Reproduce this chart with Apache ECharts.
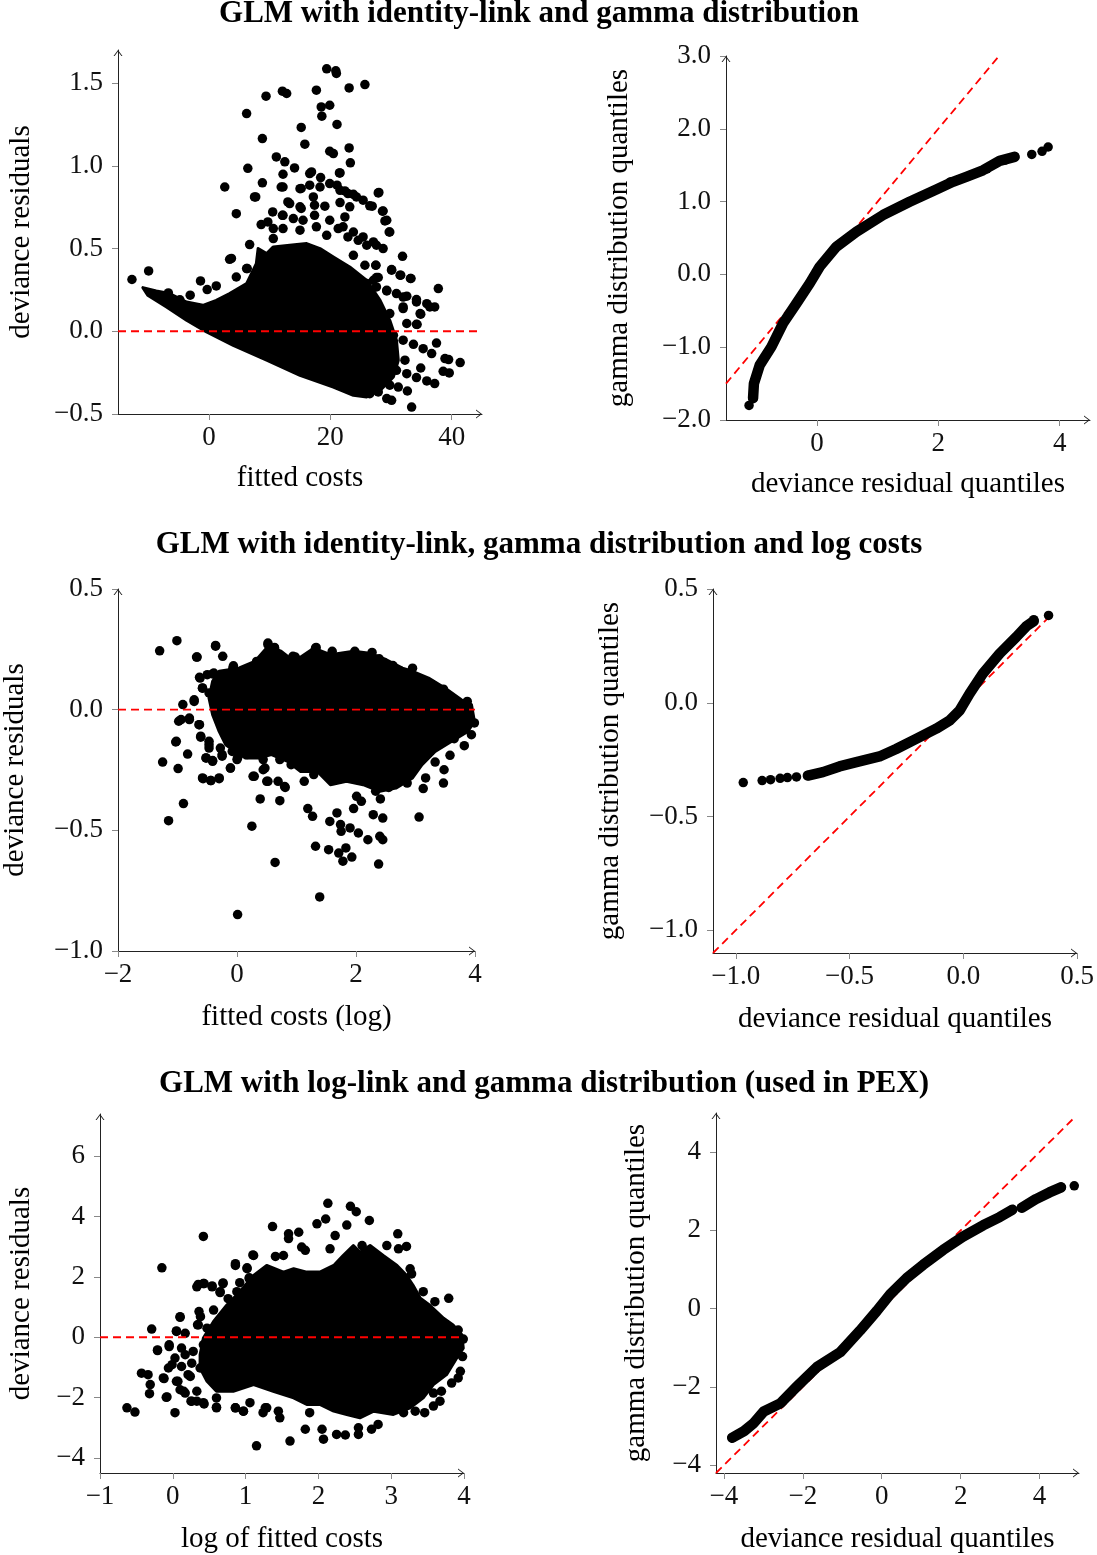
<!DOCTYPE html>
<html><head><meta charset="utf-8">
<script src="https://cdn.jsdelivr.net/npm/echarts@6/dist/echarts.min.js"></script>
<style>html,body{margin:0;padding:0;background:#fff}#c{width:1097px;height:1555px}</style>
</head><body><div id="c"></div><script>
// ---------- Titles ----------
var titles = [
  'GLM with identity-link and gamma distribution',
  'GLM with identity-link, gamma distribution and log costs',
  'GLM with log-link and gamma distribution (used in PEX)'
];
// ---------- Plot 1: identity-link, gamma — residuals vs fitted ----------
var p1XTicks = [0, 20, 40];
var p1YTicks = [-0.5, 0, 0.5, 1.0, 1.5];
var p1Zero = [[-15, 0], [45, 0]];
var p1Blob = [[-10.9,0.264],[-8.7,0.244],[-6.5,0.228],[-3.7,0.177],[-1.0,0.157],[1.2,0.187],[3.4,0.228],[6.2,0.288],[7.8,0.409],[8.1,0.5],[9.5,0.47],[10.6,0.51],[13.3,0.52],[16.1,0.53],[18.3,0.5],[20.5,0.449],[23.2,0.389],[26.0,0.308],[28.2,0.187],[29.8,0.066],[30.9,-0.054],[31.2,-0.175],[30.4,-0.276],[28.2,-0.357],[26.0,-0.397],[23.8,-0.387],[20.5,-0.337],[15.0,-0.266],[9.5,-0.175],[4.0,-0.085],[-0.4,-0.004],[-3.7,0.067],[-7.0,0.147],[-10.1,0.218]];
var p1Points = [[-12.7,0.313],[-9.95,0.365],[-6.7,0.232],[-4.8,0.19],[-3.1,0.218],[-1.4,0.304],[-0.3,0.252],[1.2,0.274],[3.4,0.435],[4.5,0.711],[2.6,0.872],[6.2,1.316],[6.4,0.985],[6.3,0.379],[6.7,0.524],[7.7,0.812],[8.8,1.165],[8.8,0.897],[9.4,1.421],[8.6,0.645],[9.7,0.661],[10.5,0.721],[11.1,1.054],[10.6,0.56],[12.1,1.451],[12.8,1.437],[12.5,1.024],[12.2,0.872],[12.1,0.701],[14.1,0.987],[13.3,0.772],[15.2,1.232],[15.8,1.131],[15.0,0.862],[15.2,0.742],[17.7,1.457],[18.5,1.356],[18.6,1.3],[19.4,1.586],[19.9,1.366],[20.9,1.574],[21.0,1.558],[21.1,1.25],[19.9,1.088],[20.5,1.074],[23.1,1.471],[25.7,1.491],[23.1,1.108],[23.3,1.018],[21.5,0.957],[16.9,0.963],[18.3,0.872],[17.2,0.812],[21.6,0.852],[22.9,0.832],[24.3,0.812],[25.4,0.792],[26.5,0.758],[27.9,0.836],[28.7,0.727],[29.3,0.671],[29.7,0.6],[22.1,0.631],[23.8,0.6],[25.4,0.57],[27.1,0.54],[28.7,0.5],[31.9,0.453],[30.1,0.369],[31.5,0.339],[33.2,0.319],[27.9,0.325],[27.5,0.399],[25.7,0.399],[37.8,0.258],[26.0,0.288],[27.6,0.268],[29.3,0.244],[30.9,0.228],[32.6,0.212],[34.2,0.192],[35.9,0.167],[37.2,0.147],[32.0,0.137],[34.9,0.103],[34.3,0.041],[28.7,0.006],[30.4,-0.024],[32.0,-0.054],[33.7,-0.079],[35.3,-0.105],[36.7,-0.135],[37.5,-0.071],[38.9,-0.165],[39.5,-0.171],[41.4,-0.189],[32.3,-0.175],[34.9,-0.222],[30.9,-0.236],[32.6,-0.256],[34.2,-0.28],[35.9,-0.3],[37.2,-0.316],[38.6,-0.242],[39.6,-0.252],[29.8,-0.326],[31.2,-0.337],[32.7,-0.361],[29.3,-0.407],[30.1,-0.417],[33.4,-0.458],[26.5,-0.377],[27.9,-0.367],
  [12.2,0.949],[16.6,0.953],[18.4,0.929],[21.6,0.957],[11.9,0.872],[15.2,0.863],[16.6,0.883],[19.9,0.893],[21.1,0.883],[22.4,0.848],[23.8,0.828],[28.0,0.839],[7.5,0.812],[13.0,0.782],[15.0,0.752],[17.4,0.762],[19.1,0.756],[21.6,0.778],[23.2,0.752],[26.9,0.756],[28.6,0.726],[12.2,0.701],[13.9,0.681],[15.5,0.671],[17.4,0.701],[19.9,0.671],[22.4,0.691],[29.0,0.667],[29.8,0.6],[10.6,0.621],[12.2,0.621],[15.0,0.611],[17.7,0.631],[19.4,0.58],[21.3,0.621],[22.9,0.57],[24.6,0.55],[26.0,0.52],[27.6,0.52],[23.8,0.459],[27.5,0.399],[30.1,0.373],[31.6,0.339],[33.3,0.319],[27.6,0.325],[4.5,0.328],[6.2,0.379],[3.7,0.44],[32.0,0.147],[34.8,0.107],[34.2,0.042],[27.1,0.308],[29.3,0.248],[32.0,0.207],[34.2,0.177],[36.4,0.147],[29.8,0.107],[32.6,0.047]];
// ---------- Plot 2: QQ plot ----------
var p2XTicks = [0, 2, 4];
var p2YTicks = [-2, -1, 0, 1, 2, 3];
var p2Ref = [[-1.5, -1.5], [3, 3]];
var p2Curve = [[-1.054,-1.70],[-1.04,-1.50],[-0.944,-1.246],[-0.751,-0.994],[-0.56,-0.673],[-0.34,-0.40],[-0.12,-0.124],[0.044,0.105],[0.32,0.38],[0.65,0.585],[1.087,0.815],[1.527,0.997],[1.967,1.167],[2.24,1.272],[2.46,1.34],[2.735,1.43],[3.01,1.56],[3.257,1.615]];
var p2Dots = [[-1.12,-1.80],[-1.054,-1.70],[2.2,1.27],[2.52,1.36],[2.8,1.45],[3.1,1.57],[3.257,1.615],[3.54,1.648],[3.71,1.69],[3.81,1.75]];
// ---------- Plot 3: identity-link, log costs ----------
var p3XTicks = [-2, 0, 2, 4];
var p3YTicks = [-1.0, -0.5, 0, 0.5];
var p3Zero = [[-2, 0], [4, 0]];
var p3Blob = [[-0.30,0.159],[0.03,0.172],[0.30,0.2],[0.52,0.262],[0.74,0.242],[0.96,0.2],[1.29,0.255],[1.57,0.228],[1.96,0.242],[2.23,0.234],[2.51,0.207],[2.78,0.172],[2.95,0.159],[3.22,0.131],[3.50,0.089],[3.77,0.041],[3.94,0.021],[3.99,-0.048],[3.88,-0.09],[3.61,-0.131],[3.33,-0.173],[3.11,-0.228],[2.95,-0.283],[2.67,-0.325],[2.40,-0.338],[2.12,-0.311],[1.84,-0.297],[1.57,-0.311],[1.35,-0.256],[1.07,-0.256],[0.85,-0.214],[0.58,-0.186],[0.36,-0.2],[0.14,-0.2],[-0.03,-0.173],[-0.19,-0.145],[-0.30,-0.09],[-0.41,-0.021],[-0.47,0.048],[-0.41,0.117]];
var p3Points = [[-1.30,0.244],[-1.01,0.286],[-0.36,0.266],[-0.24,0.221],[-0.67,0.218],[-0.06,0.182],[-0.62,0.131],[-0.50,0.145],[-0.39,0.152],[-0.72,0.041],[-0.91,0.021],[-0.58,0.089],[-0.98,-0.048],[-0.80,-0.035],[-0.64,-0.062],[-1.03,-0.134],[-0.61,-0.114],[-0.47,-0.145],[-0.83,-0.184],[-1.25,-0.217],[-0.99,-0.244],[-0.52,-0.2],[-0.41,-0.214],[-0.57,-0.286],[-0.44,-0.294],[-0.30,-0.286],[-0.25,-0.186],[-0.11,-0.242],[0.01,-0.2],[-0.90,-0.389],[-1.15,-0.46],[0.25,-0.483],[0.29,-0.276],[0.44,-0.249],[0.52,-0.297],[0.69,-0.297],[0.81,-0.322],[0.39,-0.37],[0.72,-0.377],[0.64,-0.633],[0.01,-0.849],[1.39,-0.776],[1.32,-0.566],[1.19,-0.41],[1.27,-0.442],[1.54,-0.58],[1.56,-0.463],[1.68,-0.428],[1.74,-0.476],[1.71,-0.594],[1.83,-0.573],[1.78,-0.628],[1.93,-0.611],[1.75,-0.504],[1.90,-0.49],[1.96,-0.41],[2.29,-0.435],[2.09,-0.38],[2.01,-0.359],[2.04,-0.511],[2.20,-0.539],[2.38,-0.64],[2.40,-0.525],[2.45,-0.539],[2.45,-0.449],[2.41,-0.37],[2.33,-0.338],[3.06,-0.445],[3.13,-0.327],[2.55,-0.322],[2.86,-0.304],[3.17,-0.283],[3.33,-0.217],[3.48,-0.249],[3.47,-0.304],[3.58,-0.189],[3.45,-0.131],[3.65,-0.12],[3.82,-0.149],[3.94,-0.104],[3.99,-0.055],[3.87,0.034],[3.47,0.085],[3.28,0.104],[2.95,0.172],[2.75,0.159],[2.62,0.183],[2.39,0.211],[2.27,0.237],[1.98,0.242],[1.60,0.242],[1.33,0.258],[0.98,0.218],[0.63,0.258],[0.52,0.276],[0.33,0.2],[-0.07,0.172],
  [-0.36,0.263],[-0.68,0.218],[-0.63,0.134],[-0.41,0.148],[-0.28,0.134],[-0.58,0.09],[-0.47,0.069],[-0.30,0.055],[-0.72,0.034],[-0.94,-0.041],[-0.80,-0.041],[-0.63,-0.062],[-1.02,-0.131],[-0.61,-0.11],[-0.47,-0.131],[-0.47,-0.159],[-0.28,-0.159],[-0.52,-0.2],[-0.41,-0.211],[-0.25,-0.193],[-0.08,-0.173],[-0.11,-0.242],[0,-0.207],[0.17,-0.186],[-0.58,-0.283],[-0.44,-0.294],[-0.30,-0.283],[0.27,-0.276],[0.47,-0.242],[0.50,-0.297],[0.80,-0.318],[0.44,-0.207],[0.72,-0.207],[0.91,-0.228],[1.13,-0.242],[1.29,-0.269],[1.13,-0.297],[0.52,0.269],[0.63,0.255],[0.33,0.193],[0.14,0.159],[0.94,0.221],[1.32,0.255]];
// ---------- Plot 4: QQ plot ----------
var p4Ticks = [-1.0, -0.5, 0, 0.5];
var p4Ref = [[-1.1, -1.1], [0.37, 0.37]];
var p4Curve = [[-0.683,-0.32],[-0.617,-0.305],[-0.544,-0.28],[-0.47,-0.261],[-0.368,-0.236],[-0.295,-0.203],[-0.207,-0.159],[-0.119,-0.114],[-0.06,-0.078],[-0.016,-0.034],[0.028,0.04],[0.086,0.128],[0.16,0.216],[0.233,0.289],[0.277,0.336],[0.31,0.359]];
var p4Dots = [[-0.967,-0.351],[-0.884,-0.342],[-0.847,-0.338],[-0.805,-0.332],[-0.773,-0.329],[-0.733,-0.326],[-0.683,-0.32],[0.31,0.365],[0.375,0.384]];
// ---------- Plot 5: log-link — residuals vs log fitted ----------
var p5XTicks = [-1, 0, 1, 2, 3, 4];
var p5YTicks = [-4, -2, 0, 2, 4, 6];
var p5Zero = [[-1, 0], [4, 0]];
var p5Blob = [[0.375,-0.58],[0.42,-0.03],[0.56,0.52],[0.74,1.06],[0.92,1.51],[1.11,2.05],[1.29,2.38],[1.52,2.16],[1.66,2.27],[1.84,2.16],[2.02,2.16],[2.21,2.38],[2.34,2.71],[2.48,3.04],[2.57,2.82],[2.71,3.04],[2.89,2.71],[3.08,2.38],[3.21,2.05],[3.30,1.72],[3.40,1.29],[3.53,1.06],[3.72,0.63],[3.85,0.41],[3.97,0.08],[3.99,-0.36],[3.90,-0.69],[3.76,-1.24],[3.58,-1.57],[3.44,-2.01],[3.26,-2.34],[3.03,-2.56],[2.76,-2.45],[2.57,-2.67],[2.39,-2.56],[2.21,-2.45],[2.02,-2.23],[1.84,-2.23],[1.66,-2.01],[1.38,-1.79],[1.11,-1.57],[0.83,-1.79],[0.60,-1.79],[0.47,-1.46],[0.375,-1.02]];
var p5Points = [[-0.63,-2.34],[-0.52,-2.48],[-0.43,-1.19],[-0.34,-1.24],[-0.31,-1.57],[-0.32,-1.87],[-0.29,0.27],[-0.21,-0.44],[-0.15,2.30],[-0.13,-1.35],[-0.08,-1.98],[-0.05,-0.31],[-0.01,-0.91],[0.03,-2.50],[0.05,0.19],[0.10,0.68],[0.07,-1.46],[0.10,-1.74],[0.17,-1.85],[0.17,-0.58],[0.21,-1.24],[0.25,-2.12],[0.33,1.67],[0.34,0.41],[0.36,0.85],[0.33,-2.12],[0.42,3.34],[0.43,-2.21],[0.43,1.78],[0.54,1.67],[0.60,-2.34],[0.65,1.51],[0.69,1.78],[0.86,2.38],[0.86,-2.34],[0.97,-2.45],[1.02,2.27],[1.05,1.94],[1.11,2.71],[1.06,-2.17],[1.24,-2.50],[1.27,-2.34],[1.37,3.67],[1.41,2.68],[1.45,-2.45],[1.47,-2.67],[1.15,-3.60],[1.52,2.71],[1.59,3.43],[1.59,3.27],[1.61,-3.44],[1.73,3.48],[1.77,2.99],[1.82,2.88],[1.82,-3.05],[1.88,-2.50],[1.98,3.76],[2.05,-3.05],[2.07,-3.38],[2.10,3.92],[2.13,4.44],[2.16,2.93],[2.23,3.37],[2.25,-3.22],[2.37,-3.24],[2.39,3.72],[2.44,4.34],[2.52,4.16],[2.55,-3.22],[2.55,-3.00],[2.60,3.04],[2.70,3.87],[2.73,-3.05],[2.82,-2.89],[2.94,3.04],[3.09,3.43],[3.10,2.93],[3.21,3.01],[3.17,-2.50],[3.26,2.27],[3.28,2.10],[3.33,-2.45],[3.44,1.51],[3.46,-2.50],[3.58,-2.28],[3.58,-1.85],[3.67,-2.12],[3.69,-1.79],[3.79,1.29],[3.60,1.18],[3.83,-1.52],[3.95,-1.13],[3.92,-1.35],[3.98,-0.64],[3.99,-0.06],[3.92,0.24],
  [1.10,2.73],[0.86,2.44],[1.02,2.30],[0.35,1.75],[0.42,1.78],[0.54,1.70],[0.69,1.80],[0.65,1.48],[0.92,1.81],[1.05,1.97],[0.76,1.28],[0.88,1.51],[0.56,0.90],[0.38,0.68],[0.10,0.66],[0.35,0.41],[0.47,0.30],[0.05,0.21],[0.17,0.13],[-0.05,-0.25],[0.12,-0.36],[-0.21,-0.42],[0.03,-0.69],[0.28,-0.47],[0.42,-0.25],[-0.06,-1.02],[0.12,-0.97],[0.26,-0.86],[0.375,-1.02],[-0.12,-1.37],[0.24,-1.30],[0.05,-1.46],[0.15,-1.79],[0.33,-1.79],[-0.09,-1.99],[0.26,-2.12],[0.42,-2.17],[0.60,-2.01],[0.60,-2.32],[0.86,-2.34],[0.97,-2.45],[1.29,-2.34]];
// ---------- Plot 6: QQ plot ----------
var p6Ticks = [-4, -2, 0, 2, 4];
var p6Ref = [[-4.2, -4.2], [4.9, 4.9]];
var p6CurveA = [[-3.79,-3.30],[-3.49,-3.13],[-3.24,-2.92],[-2.99,-2.63],[-2.57,-2.42],[-2.15,-1.99],[-1.64,-1.49],[-1.05,-1.11],[-0.55,-0.56],[-0.126,-0.06],[0.21,0.36],[0.63,0.78],[1.05,1.12],[1.556,1.50],[2.06,1.84],[2.57,2.13],[2.99,2.34],[3.31,2.53]];
var p6CurveB = [[3.55,2.58],[3.91,2.80],[4.25,2.97],[4.545,3.10]];
var p6Dots = [[-3.79,-3.30],[3.31,2.53],[3.55,2.58],[4.545,3.10],[4.88,3.14]];

// ---------- styling helpers ----------
var FONT = "'Liberation Serif', 'Times New Roman', serif";
var ARROW = 'path://M0,6 L4.5,0 L9,6 L7.9,6 L4.5,1.5 L1.1,6 Z';
function fmt(dec) {
  return function (v) { return (v < -1e-9 ? '\u2212' : '') + Math.abs(v).toFixed(dec); };
}
function axis(i, min, max, ticks, dec, name, gap, margin) {
  return {
    type: 'value', gridIndex: i, min: min, max: max,
    name: name, nameLocation: 'middle', nameGap: gap,
    nameTextStyle: { fontFamily: FONT, fontSize: 29, color: '#000' },
    axisLine: { show: true, onZero: false, symbol: ['none', ARROW], symbolSize: [9, 6], symbolOffset: [0, -3],
      lineStyle: { color: '#222', width: 1 } },
    axisTick: { show: true, customValues: ticks, length: 6, inside: false, lineStyle: { color: '#888' } },
    axisLabel: { customValues: ticks, formatter: fmt(dec), fontFamily: FONT, fontSize: 27, color: '#111', margin: margin },
    splitLine: { show: false }
  };
}
function xAx(i, min, max, ticks, dec, name, gap) { return axis(i, min, max, ticks, dec, name, gap, 10); }
function yAx(i, min, max, ticks, dec, name, gap) { return axis(i, min, max, ticks, dec, name, gap, 15); }
function refLine(i, data, z) {
  return { type: 'line', xAxisIndex: i, yAxisIndex: i, data: data, symbol: 'none', silent: true, z: z,
    lineStyle: { color: '#ff0000', width: 1.8, type: [8, 5] } };
}
function blob(i, pts) {
  return { type: 'custom', xAxisIndex: i, yAxisIndex: i, data: [pts[0]], silent: true, z: 2,
    renderItem: function (params, api) {
      var p = pts.map(function (d) { return api.coord(d); });
      return { type: 'polygon', shape: { points: p },
        style: { fill: '#000', stroke: '#000', lineWidth: 3, lineJoin: 'round' } };
    } };
}
function dots(i, data) {
  return { type: 'scatter', xAxisIndex: i, yAxisIndex: i, data: data, symbolSize: 9.5, z: 3,
    itemStyle: { color: '#000', opacity: 1 } };
}
function curve(i, data) {
  return { type: 'line', xAxisIndex: i, yAxisIndex: i, data: data, symbol: 'none', z: 3,
    lineStyle: { color: '#000', width: 10.5, cap: 'round', join: 'round' } };
}

var chart = echarts.init(document.getElementById('c'), null, { renderer: 'canvas' });
chart.setOption({
  animation: false,
  backgroundColor: '#fff',
  graphic: [
    { type: 'text', x: 539, y: 14, style: { text: titles[0], font: 'bold 31px ' + FONT, fill: '#000', textAlign: 'center', textVerticalAlign: 'middle' } },
    { type: 'text', x: 539, y: 545, style: { text: titles[1], font: 'bold 31px ' + FONT, fill: '#000', textAlign: 'center', textVerticalAlign: 'middle' } },
    { type: 'text', x: 544, y: 1084, style: { text: titles[2], font: 'bold 31px ' + FONT, fill: '#000', textAlign: 'center', textVerticalAlign: 'middle' } }
  ],
  grid: [
    { left: 118, top: 50, width: 364, height: 364 },
    { left: 726, top: 56, width: 364, height: 364 },
    { left: 111, top: 589, width: 364, height: 362 },
    { left: 713, top: 589, width: 364, height: 364 },
    { left: 100, top: 1114, width: 364, height: 361 },
    { left: 716, top: 1113, width: 363, height: 365 }
  ],
  xAxis: [
    xAx(0, -15, 45, p1XTicks, 0, 'fitted costs', 50),
    xAx(1, -1.5, 4.5, p2XTicks, 0, 'deviance residual quantiles', 50),
    xAx(2, -2, 4, p3XTicks, 0, 'fitted costs (log)', 52),
    xAx(3, -1.1, 0.5, p4Ticks, 1, 'deviance residual quantiles', 52),
    xAx(4, -1, 4, p5XTicks, 0, 'log of fitted costs', 52),
    xAx(5, -4.2, 5.0, p6Ticks, 0, 'deviance residual quantiles', 52)
  ],
  yAxis: [
    yAx(0, -0.5, 1.7, p1YTicks, 1, 'deviance residuals', 82),
    yAx(1, -2, 3, p2YTicks, 1, 'gamma distribution quantiles', 92),
    yAx(2, -1.0, 0.5, p3YTicks, 1, 'deviance residuals', 88),
    yAx(3, -1.1, 0.5, p4Ticks, 1, 'gamma distribution quantiles', 88),
    yAx(4, -4.5, 7.4, p5YTicks, 0, 'deviance residuals', 64),
    yAx(5, -4.2, 5.0, p6Ticks, 0, 'gamma distribution quantiles', 65)
  ],
  series: [
    blob(0, p1Blob), dots(0, p1Points), refLine(0, p1Zero, 5),
    refLine(1, p2Ref, 1), curve(1, p2Curve), dots(1, p2Dots),
    blob(2, p3Blob), dots(2, p3Points), refLine(2, p3Zero, 5),
    refLine(3, p4Ref, 1), curve(3, p4Curve), dots(3, p4Dots),
    blob(4, p5Blob), dots(4, p5Points), refLine(4, p5Zero, 5),
    refLine(5, p6Ref, 1), curve(5, p6CurveA), curve(5, p6CurveB), dots(5, p6Dots)
  ]
});
</script></body></html>
